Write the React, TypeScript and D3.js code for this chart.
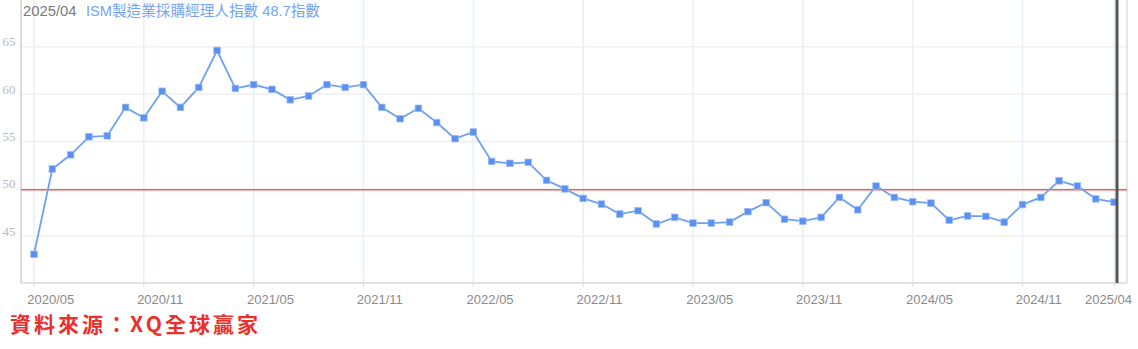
import React from "react";
import * as d3 from "d3";

const months: string[] = [];
for (let y = 2020; y <= 2025; y++) {
  for (let m = 1; m <= 12; m++) {
    if ((y === 2020 && m < 5) || (y === 2025 && m > 4)) continue;
    months.push(`${y}/${String(m).padStart(2, "0")}`);
  }
}

const values2020 = [43.1, 52.1, 53.6, 55.5, 55.6, 58.6, 57.5, 60.3];
const values2021 = [58.6, 60.7, 64.6, 60.6, 61.0, 60.5, 59.4, 59.8, 61.0, 60.7, 61.0, 58.6];
const values2022 = [57.4, 58.5, 57.0, 55.3, 56.0, 52.9, 52.7, 52.8, 50.9, 50.0, 49.0, 48.4];
const values2023 = [47.35, 47.7, 46.3, 47.0, 46.4, 46.4, 46.5, 47.6, 48.55, 46.8, 46.6, 47.0];
const values2024 = [49.1, 47.8, 50.3, 49.1, 48.65, 48.5, 46.7, 47.15, 47.1, 46.5, 48.35, 49.1];
const values2025 = [50.85, 50.3, 48.95, 48.6];
const values = [...values2020, ...values2021, ...values2022, ...values2023, ...values2024, ...values2025];

const xTickLabels = ["2020/05", "2020/11", "2021/05", "2021/11", "2022/05", "2022/11", "2023/05", "2023/11", "2024/05", "2024/11", "2025/04"];
const yTicks = [45, 50, 55, 60, 65];
const refLevel = 50;
const titleDate = "2025/04";
const titleText = "ISM製造業採購經理人指數 48.7指數";
const sourceText = "資料來源：XQ全球贏家";

const W = 1138;
const H = 349;
const plotLeft = 21;
const plotRight = 1127;
const plotTop = 0;
const plotBottom = 283;

export default function App() {
  const x = d3.scaleLinear().domain([0, months.length - 1]).range([34, 1114]);
  const y = d3.scaleLinear().domain([45, 65]).range([236.3, 46.7]);
  const line = d3
    .line<number>()
    .x((_, i) => x(i))
    .y((d) => y(d));
  const tickIdx = xTickLabels.map((l) => months.indexOf(l));
  const last = months.length - 1;

  return (
    <svg
      width={W}
      height={H}
      style={{ position: "absolute", left: 0, top: 0, background: "#fff" }}
      fontFamily="'Liberation Sans', Arial, sans-serif"
    >
      <rect x={0} y={0} width={W} height={H} fill="#fff" />
      {yTicks.map((t) => (
        <line key={"h" + t} x1={plotLeft} x2={plotRight} y1={y(t)} y2={y(t)} stroke="#efefef" strokeWidth={1.5} />
      ))}
      {tickIdx.map((i) => (
        <g key={"v" + i}>
          <line x1={x(i)} x2={x(i)} y1={plotTop} y2={plotBottom} stroke="#e5f0fa" strokeWidth={1.5} />
          <line x1={x(i)} x2={x(i)} y1={plotBottom} y2={plotBottom + 4} stroke="#d6e4f0" strokeWidth={1.2} />
        </g>
      ))}
      <line x1={plotLeft} x2={plotLeft} y1={plotTop} y2={plotBottom} stroke="#cfcfcf" strokeWidth={1.5} />
      <line x1={plotLeft} x2={plotRight} y1={plotBottom} y2={plotBottom} stroke="#d8d8d8" strokeWidth={1.5} />
      <line x1={plotRight} x2={plotRight} y1={plotTop} y2={plotBottom} stroke="#dcdcdc" strokeWidth={1.5} />
      {yTicks.map((t) => (
        <text key={"yl" + t} x={2.5} y={y(t) - 0.5} fontSize={13} fill="#bababa" fontFamily="'Liberation Serif', 'DejaVu Serif', serif">
          {t}
        </text>
      ))}
      <line x1={plotLeft} x2={plotRight} y1={y(refLevel) + 0.8} y2={y(refLevel) + 0.8} stroke="#f25c5c" strokeWidth={1.5} />
      <path d={line(values) || ""} fill="none" stroke="#6ea1f2" strokeWidth={1.8} />
      {values.map((v, i) => (
        <rect key={"p" + i} x={x(i) - 3.3} y={y(v) - 3.3} width={6.6} height={6.6} fill="#5b90f0" stroke="#9cbdf6" strokeWidth={0.7} />
      ))}
      <line x1={x(last) + 3} x2={x(last) + 3} y1={plotTop} y2={plotBottom} stroke="#555" strokeWidth={3} />
      {tickIdx.map((i, k) => {
        const isLast = k === tickIdx.length - 1;
        return (
          <text
            key={"xl" + i}
            x={isLast ? 1132 : x(i) - 6.7}
            y={304}
            fontSize={13}
            fill="#8a8a8a"
            textAnchor={isLast ? "end" : "start"}
          >
            {xTickLabels[k]}
          </text>
        );
      })}
      <text x={23} y={16} fontSize={14.8} fill="#7a7a7a">
        {titleDate}
      </text>
      <text x={86} y={16} fontSize={14.5} fill="#74a4f2" fontFamily="'Liberation Sans', 'Noto Sans CJK TC', sans-serif" textLength={234} lengthAdjust="spacingAndGlyphs">
        {titleText}
      </text>
      <text x={10} y={332} fontSize={21} fill="#e8312c" fontWeight="bold" fontFamily="'Noto Sans CJK TC', sans-serif" textLength={248} lengthAdjust="spacing">
        {sourceText}
      </text>
    </svg>
  );
}
